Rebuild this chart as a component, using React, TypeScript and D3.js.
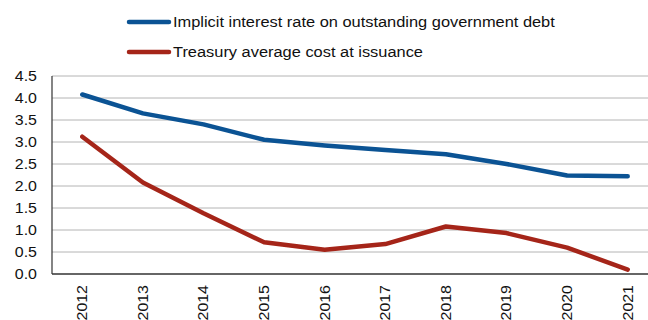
import React from "react";
import * as d3 from "d3";

const years = ["2012","2013","2014","2015","2016","2017","2018","2019","2020","2021"];
const implicitRate = [4.08, 3.65, 3.4, 3.05, 2.92, 2.82, 2.72, 2.5, 2.24, 2.22];
const issuanceCost = [3.12, 2.08, 1.38, 0.72, 0.55, 0.68, 1.08, 0.93, 0.6, 0.1];
const yTicks = [0, 0.5, 1, 1.5, 2, 2.5, 3, 3.5, 4, 4.5];
const seriesNames = ["Implicit interest rate on outstanding government debt", "Treasury average cost at issuance"];
const colors = ["#0b5394", "#a52519"];

export default function App() {
  const W = 648, H = 320;
  const left = 52, right = 658, top = 76, bottom = 274;
  const x = d3.scaleBand<string>().domain(years).range([left, right]);
  const y = d3.scaleLinear().domain([0, 4.5]).range([bottom, top]);
  const line = d3.line<number>().x((_, i) => (x(years[i]) as number) + x.bandwidth() / 2).y(d => y(d));
  const font = "Liberation Sans, Arial, sans-serif";
  const sx = 1.14;
  return (
    <svg width={W} height={H} style={{ position: "absolute", left: 0, top: 0, background: "#fff" }}>
      {yTicks.map(t => (
        <g key={t}>
          {t > 0 && <line x1={left} x2={W} y1={y(t)} y2={y(t)} stroke="#b4b4b4" strokeWidth={1} />}
          <text transform={`translate(37,${y(t)}) scale(${sx},1)`} dy="0.35em" textAnchor="end" fontFamily={font} fontSize={14} fill="#111">{t.toFixed(1)}</text>
        </g>
      ))}
      <line x1={left} x2={left} y1={top} y2={bottom} stroke="#333" strokeWidth={1.2} />
      <line x1={left} x2={W} y1={bottom} y2={bottom} stroke="#333" strokeWidth={1.5} />
      {years.map(yr => {
        const cx = (x(yr) as number) + x.bandwidth() / 2;
        return (
          <text key={yr} transform={`translate(${cx},${bottom + 11}) rotate(-90) scale(${sx},1)`} dy="0.35em" textAnchor="end" fontFamily={font} fontSize={14} fill="#111">{yr}</text>
        );
      })}
      {[implicitRate, issuanceCost].map((s, i) => (
        <path key={i} d={line(s) || ""} fill="none" stroke={colors[i]} strokeWidth={4.5} strokeLinecap="round" strokeLinejoin="round" />
      ))}
      {seriesNames.map((n, i) => (
        <g key={n}>
          <line x1={129} x2={169} y1={22 + i * 30} y2={22 + i * 30} stroke={colors[i]} strokeWidth={4.5} strokeLinecap="round" />
          <text transform={`translate(173,${22 + i * 30}) scale(1.08,1)`} dy="0.35em" fontFamily={font} fontSize={15.2} fill="#111">{n}</text>
        </g>
      ))}
    </svg>
  );
}
